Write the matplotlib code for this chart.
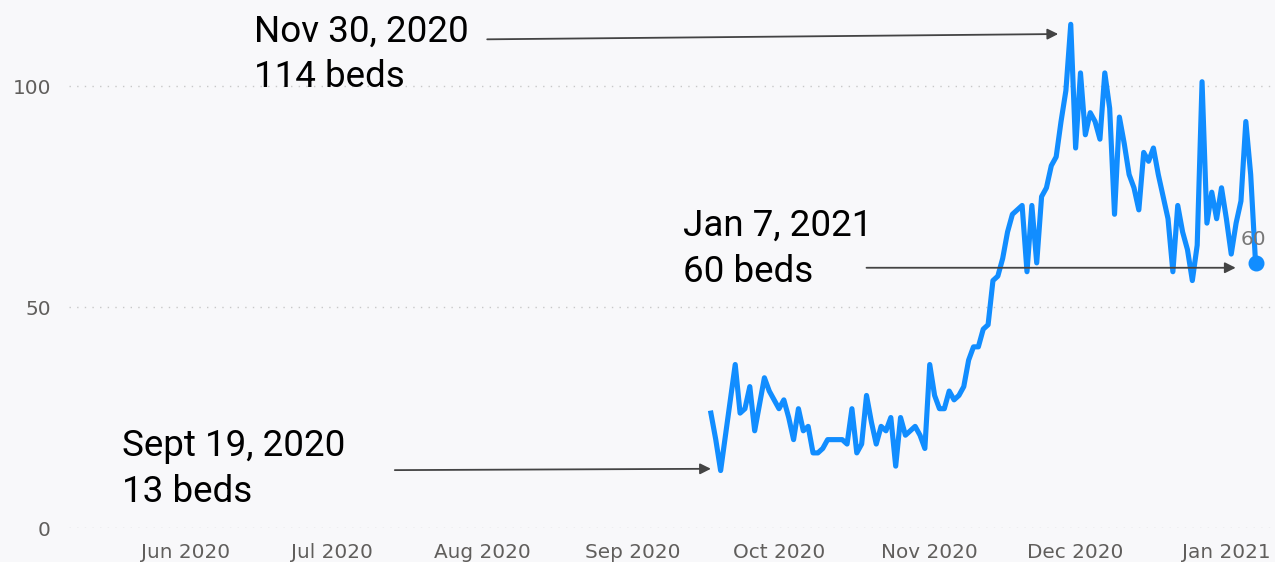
import numpy as np
import pandas as pd
import matplotlib
matplotlib.use('Agg')
import matplotlib.pyplot as plt
import matplotlib.dates as mdates

# daily ICU beds in use, Sep 17 2020 .. Jan 7 2021
start_date = '2020-09-17'
end_date = '2021-01-07'
beds = [26, 20, 13, 21, 29, 37, 26, 27, 32, 22,
        28, 34, 31, 29, 27, 29, 25, 20, 27, 22,
        23, 17, 17, 18, 20, 20, 20, 20, 19, 27,
        17, 19, 30, 24, 19, 23, 22, 25, 14, 25,
        21, 22, 23, 21, 18, 37, 30, 27, 27, 31,
        29, 30, 32, 38, 41, 41, 45, 46, 56, 57,
        61, 67, 71, 72, 73, 58, 73, 60, 75, 77,
        82, 84, 92, 99, 114, 86, 103, 89, 94, 92,
        88, 103, 95, 71, 93, 87, 80, 77, 72, 85,
        83, 86, 80, 75, 70, 58, 73, 67, 63, 56,
        64, 101, 69, 76, 70, 77, 70, 62, 69, 74,
        92, 80, 60]
dates = pd.date_range(start_date, end_date, freq='D')

month_ticks = pd.date_range('2020-06-01', '2021-01-01', freq='MS')
y_ticks = [0, 50, 100]

# (text, text x date, text y, arrow tail date, tail y, arrow tip date, tip y)
callouts = [
    ("Nov 30, 2020\n114 beds", '2020-06-15', 116.5, '2020-08-02', 110.6, '2020-11-27 10:00', 111.8),
    ("Jan 7, 2021\n60 beds", '2020-09-11 08:00', 72.4, '2020-10-19', 58.9, '2021-01-02 22:00', 58.9),
    ("Sept 19, 2020\n13 beds", '2020-05-18 20:00', 22.6, '2020-07-14', 13.1, '2020-09-17 00:00', 13.4),
]

line_color = '#118DFF'
bg = '#F8F8FA'
tick_color = '#605E5C'

fig = plt.figure(figsize=(12.75, 5.62), dpi=100, facecolor=bg)
ax = fig.add_axes([69 / 1275, 34 / 562, 1 - 69 / 1275, 528 / 562])
ax.set_facecolor(bg)

ax.plot(dates, beds, color=line_color, lw=3.7, solid_joinstyle='round', zorder=3)
ax.plot(dates[-1], beds[-1], 'o', color=line_color, ms=10.5, zorder=4)
ax.annotate(str(beds[-1]), (dates[-1], beds[-1]), xytext=(-2, 14), textcoords='offset pixels',
            ha='center', va='bottom', color='#777777', fontsize=14.5, family='DejaVu Sans')

ax.set_xlim(pd.Timestamp('2020-05-08'), pd.Timestamp('2021-01-11'))
ax.set_ylim(0, 119.5)
ax.set_xticks(month_ticks)
ax.xaxis.set_major_formatter(mdates.DateFormatter('%b %Y'))
ax.set_yticks(y_ticks)
ax.tick_params(length=0, labelsize=14.4, colors=tick_color)
ax.tick_params(axis='y', pad=13)
ax.tick_params(axis='x', pad=11)
for s in ax.spines.values():
    s.set_visible(False)
ax.grid(axis='y', color='#C8C8C8', lw=1.0, ls=(0, (1, 4.5)))
ax.set_axisbelow(True)

for txt, tx, ty, ax0, ay0, ax1, ay1 in callouts:
    ax.text(pd.Timestamp(tx), ty, txt, ha='left', va='top', fontsize=26.5,
            family='Roboto', color='black', linespacing=1.36, zorder=5)
    ax.annotate('', xy=(pd.Timestamp(ax1), ay1), xytext=(pd.Timestamp(ax0), ay0),
                arrowprops=dict(arrowstyle='-|>', color='#444444', lw=1.3,
                                mutation_scale=16, shrinkA=0, shrinkB=0),
                annotation_clip=False, zorder=5)

fig.savefig('out.png', dpi=100, facecolor=bg)
